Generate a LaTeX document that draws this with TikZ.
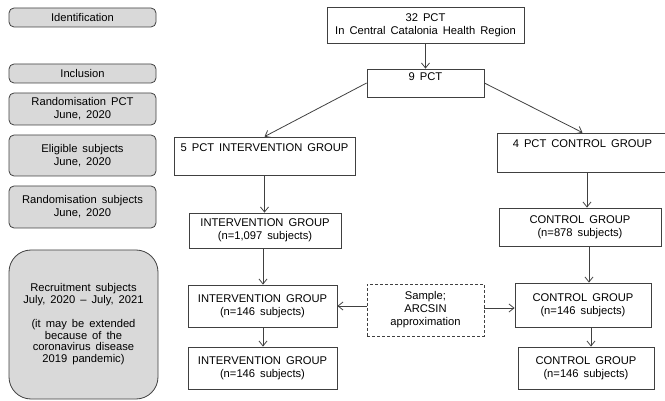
\documentclass[tikz,border=0pt]{standalone}
\usepackage{fontspec}
\setmainfont{Liberation Sans}[WordSpace=1.6]
\usetikzlibrary{arrows.meta}
\definecolor{lc}{HTML}{404040}
\definecolor{gf}{HTML}{D9D9D9}
\tikzset{
  base/.style={draw=lc, line width=0.8pt, align=center, inner sep=0pt, text=black,
    font=\fontsize{11.2}{13}\selectfont},
  stage/.style={base, fill=gf, rounded corners=5pt, minimum width=147pt},
  flowbox/.style={base, fill=white},
  dashbox/.style={base, fill=white, densely dashed, line width=0.6pt},
  arr/.style={draw=lc, line width=0.8pt, -{Straight Barb[length=5pt,width=8pt]}}
}
\begin{document}
\begin{tikzpicture}[x=1pt,y=-1pt]
\useasboundingbox (0,0) rectangle (665,401);
% left stage column
\node[stage, minimum height=19pt] (id) at (82.5,17.5) {Identification};
\node[stage, minimum height=19pt] (incl) at (82.5,73.5) {Inclusion};
\node[stage, minimum height=32pt] (rpct) at (82.5,109) {Randomisation PCT\\June, 2020};
\node[stage, minimum height=41pt] (elig) at (82.5,155.5) {Eligible subjects\\June, 2020};
\node[stage, minimum height=42pt] (rsub) at (82.5,207) {Randomisation subjects\\June, 2020};
\node[stage, minimum width=149pt, minimum height=149pt, rounded corners=22pt,
  font=\fontsize{11.2}{11.8}\selectfont] (recr) at (83.5,324.5)
  {Recruitment subjects\\July, 2020 -- July, 2021\\[11.8pt](it may be extended\\because of the\\coronavirus disease\\2019 pandemic)};
% flow
\node[flowbox, minimum width=197pt, minimum height=36pt] (p32) at (425.5,25) {32 PCT\\In Central Catalonia Health Region};
\node[flowbox, minimum width=117pt, minimum height=28pt] (p9) at (425.5,83) {9 PCT\\[-4pt]\strut};
\node[flowbox, minimum width=181pt, minimum height=38pt] (int5) at (264.5,156) {5 PCT INTERVENTION GROUP\\\strut};
\node[flowbox, minimum width=171pt, minimum height=39pt] (ctl4) at (582.5,152.5) {4 PCT CONTROL GROUP\\\strut};
\node[flowbox, minimum width=152pt, minimum height=35pt] (i1097) at (265,230.5) {INTERVENTION GROUP\\(n=1,097 subjects)};
\node[flowbox, minimum width=162pt, minimum height=38pt] (c878) at (580,227) {CONTROL GROUP\\(n=878 subjects)};
\node[flowbox, minimum width=149pt, minimum height=42pt] (i146a) at (262.5,306) {INTERVENTION GROUP\\(n=146 subjects)};
\node[dashbox, minimum width=117pt, minimum height=52pt] (smp) at (425.5,310) {Sample;\\ARCSIN\\approximation};
\node[flowbox, minimum width=136pt, minimum height=44pt] (c146a) at (583,305) {CONTROL GROUP\\(n=146 subjects)};
\node[flowbox, minimum width=149pt, minimum height=42pt] (i146b) at (262.5,368) {INTERVENTION GROUP\\(n=146 subjects)};
\node[flowbox, minimum width=136pt, minimum height=42pt] (c146b) at (586,368) {CONTROL GROUP\\(n=146 subjects)};
% guide coordinates
\coordinate (xa) at (587,0);
\coordinate (xb) at (589,0);
\coordinate (xc) at (591,0);
\coordinate (xi) at (263,0);
\coordinate (y1) at (0,306);
\coordinate (y2) at (0,308);
% connectors
\draw[arr] (p32.south) -- (p9.north);
\draw[arr] (p9.west) -- (int5.north);
\draw[arr] (p9.east) -- (ctl4.north);
\draw[arr] (int5.south) -- (i1097.north -| int5.south);
\draw[arr] (ctl4.south -| xa) -- (c878.north -| xa);
\draw[arr] (i1097.south -| xi) -- (i146a.north -| xi);
\draw[arr] (c878.south -| xb) -- (c146a.north -| xb);
\draw[arr] (i146a.south -| xi) -- (i146b.north -| xi);
\draw[arr] (c146a.south -| xc) -- (c146b.north -| xc);
\draw[arr] (smp.west |- y1) -- (i146a.east |- y1);
\draw[arr] (smp.east |- y2) -- (c146a.west |- y2);
\end{tikzpicture}
\end{document}
